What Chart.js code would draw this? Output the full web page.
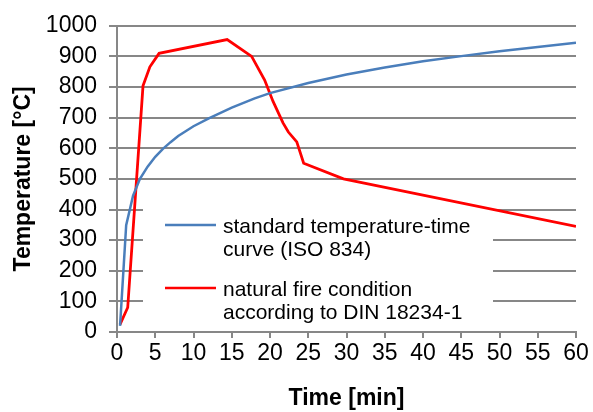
<!DOCTYPE html>
<html>
<head>
<meta charset="utf-8">
<script src="https://cdn.jsdelivr.net/npm/chart.js@4.4.0/dist/chart.umd.min.js"></script>
<style>
  html, body { margin: 0; padding: 0; background: #fff; }
  #wrap { width: 593px; height: 412px; }
</style>
</head>
<body>
<div id="wrap"><canvas id="chart" width="593" height="412"></canvas></div>
<script>
// ISO 834 standard curve
const stdTime = [0.4, 1.2, 2.1, 3, 4, 5, 6, 7, 8, 10, 12, 15, 18, 20, 25, 30, 35, 40, 45, 50, 55, 60];
const stdTemp = [20, 349, 445, 500, 540, 572, 598, 620, 640, 672, 698, 733, 763, 780, 813, 841, 864, 884, 901, 917, 931, 945];

// natural fire (DIN 18234-1)
const fireTime = [0.4, 1.4, 3.4, 4.3, 5.5, 14.4, 17.6, 19.3, 20.4, 21.7, 22.4, 23.5, 24.4, 29.6, 60];
const fireTemp = [25, 80, 804, 866, 910, 955, 900, 823, 753, 683, 653, 621, 551, 500, 345];

const legendLines = [
    ['standard temperature-time', 'curve (ISO 834)'],
    ['natural fire condition', 'according to DIN 18234-1']
];

const BLUE = '#4a7ebb';
const RED = '#ff0000';
const GRID = '#878787';
const FONT = "'Liberation Sans', Arial, sans-serif";

function toPoints(xs, ys) {
    return xs.map((x, i) => ({ x: x, y: ys[i] }));
}

// white legend box over the grid, drawn before the lines
const legendBox = {
    id: 'legendBox',
    beforeDatasetsDraw(chart) {
        const ctx = chart.ctx;
        ctx.save();
        ctx.fillStyle = '#fff';
        ctx.fillRect(143, 194, 350, 128);
        const colors = [BLUE, RED];
        const rows = [225, 288];
        ctx.font = '21px ' + FONT;
        ctx.fillStyle = '#000';
        ctx.textBaseline = 'alphabetic';
        rows.forEach((y, i) => {
            ctx.strokeStyle = colors[i];
            ctx.lineWidth = 2.5;
            ctx.beginPath();
            ctx.moveTo(165, y);
            ctx.lineTo(216, y);
            ctx.stroke();
            ctx.fillText(legendLines[i][0], 223, y + 8);
            ctx.fillText(legendLines[i][1], 223, y + 31);
        });
        ctx.restore();
    }
};

new Chart(document.getElementById('chart'), {
    type: 'scatter',
    data: {
        datasets: [{
            label: legendLines[0].join(' '),
            data: toPoints(stdTime, stdTemp),
            showLine: true,
            borderColor: BLUE,
            borderWidth: 2.5,
            pointRadius: 0,
            tension: 0
        }, {
            label: legendLines[1].join(' '),
            data: toPoints(fireTime, fireTemp),
            showLine: true,
            borderColor: RED,
            borderWidth: 2.8,
            pointRadius: 0,
            tension: 0
        }]
    },
    options: {
        responsive: false,
        animation: false,
        layout: { padding: { left: 0, right: 17, top: 22, bottom: 0 } },
        plugins: {
            legend: { display: false },
            tooltip: { enabled: false }
        },
        scales: {
            x: {
                type: 'linear',
                min: 0,
                max: 60,
                afterFit: s => { s.height = 80; },
                ticks: { stepSize: 5, color: '#000', font: { family: FONT, size: 23 }, padding: 2, maxRotation: 0 },
                grid: { drawOnChartArea: false, drawTicks: true, tickLength: 6, color: GRID, lineWidth: 2 },
                border: { color: GRID, width: 2 },
                title: {
                    display: true,
                    text: 'Time [min]',
                    color: '#000',
                    font: { family: FONT, size: 23, weight: 'bold' },
                    padding: { top: 8, bottom: 0 }
                }
            },
            y: {
                min: 0,
                max: 1000,
                afterFit: s => { s.width = 117; },
                ticks: {
                    stepSize: 100,
                    color: '#000',
                    font: { family: FONT, size: 23 },
                    padding: 12,
                    callback: v => String(v)
                },
                grid: { color: GRID, lineWidth: 2, tickLength: 8 },
                border: { color: GRID, width: 2 },
                title: {
                    display: true,
                    text: 'Temperature [°C]',
                    color: '#000',
                    font: { family: FONT, size: 23, weight: 'bold' },
                    padding: { top: 10, bottom: 0 }
                }
            }
        }
    },
    plugins: [legendBox]
});
</script>
</body>
</html>
